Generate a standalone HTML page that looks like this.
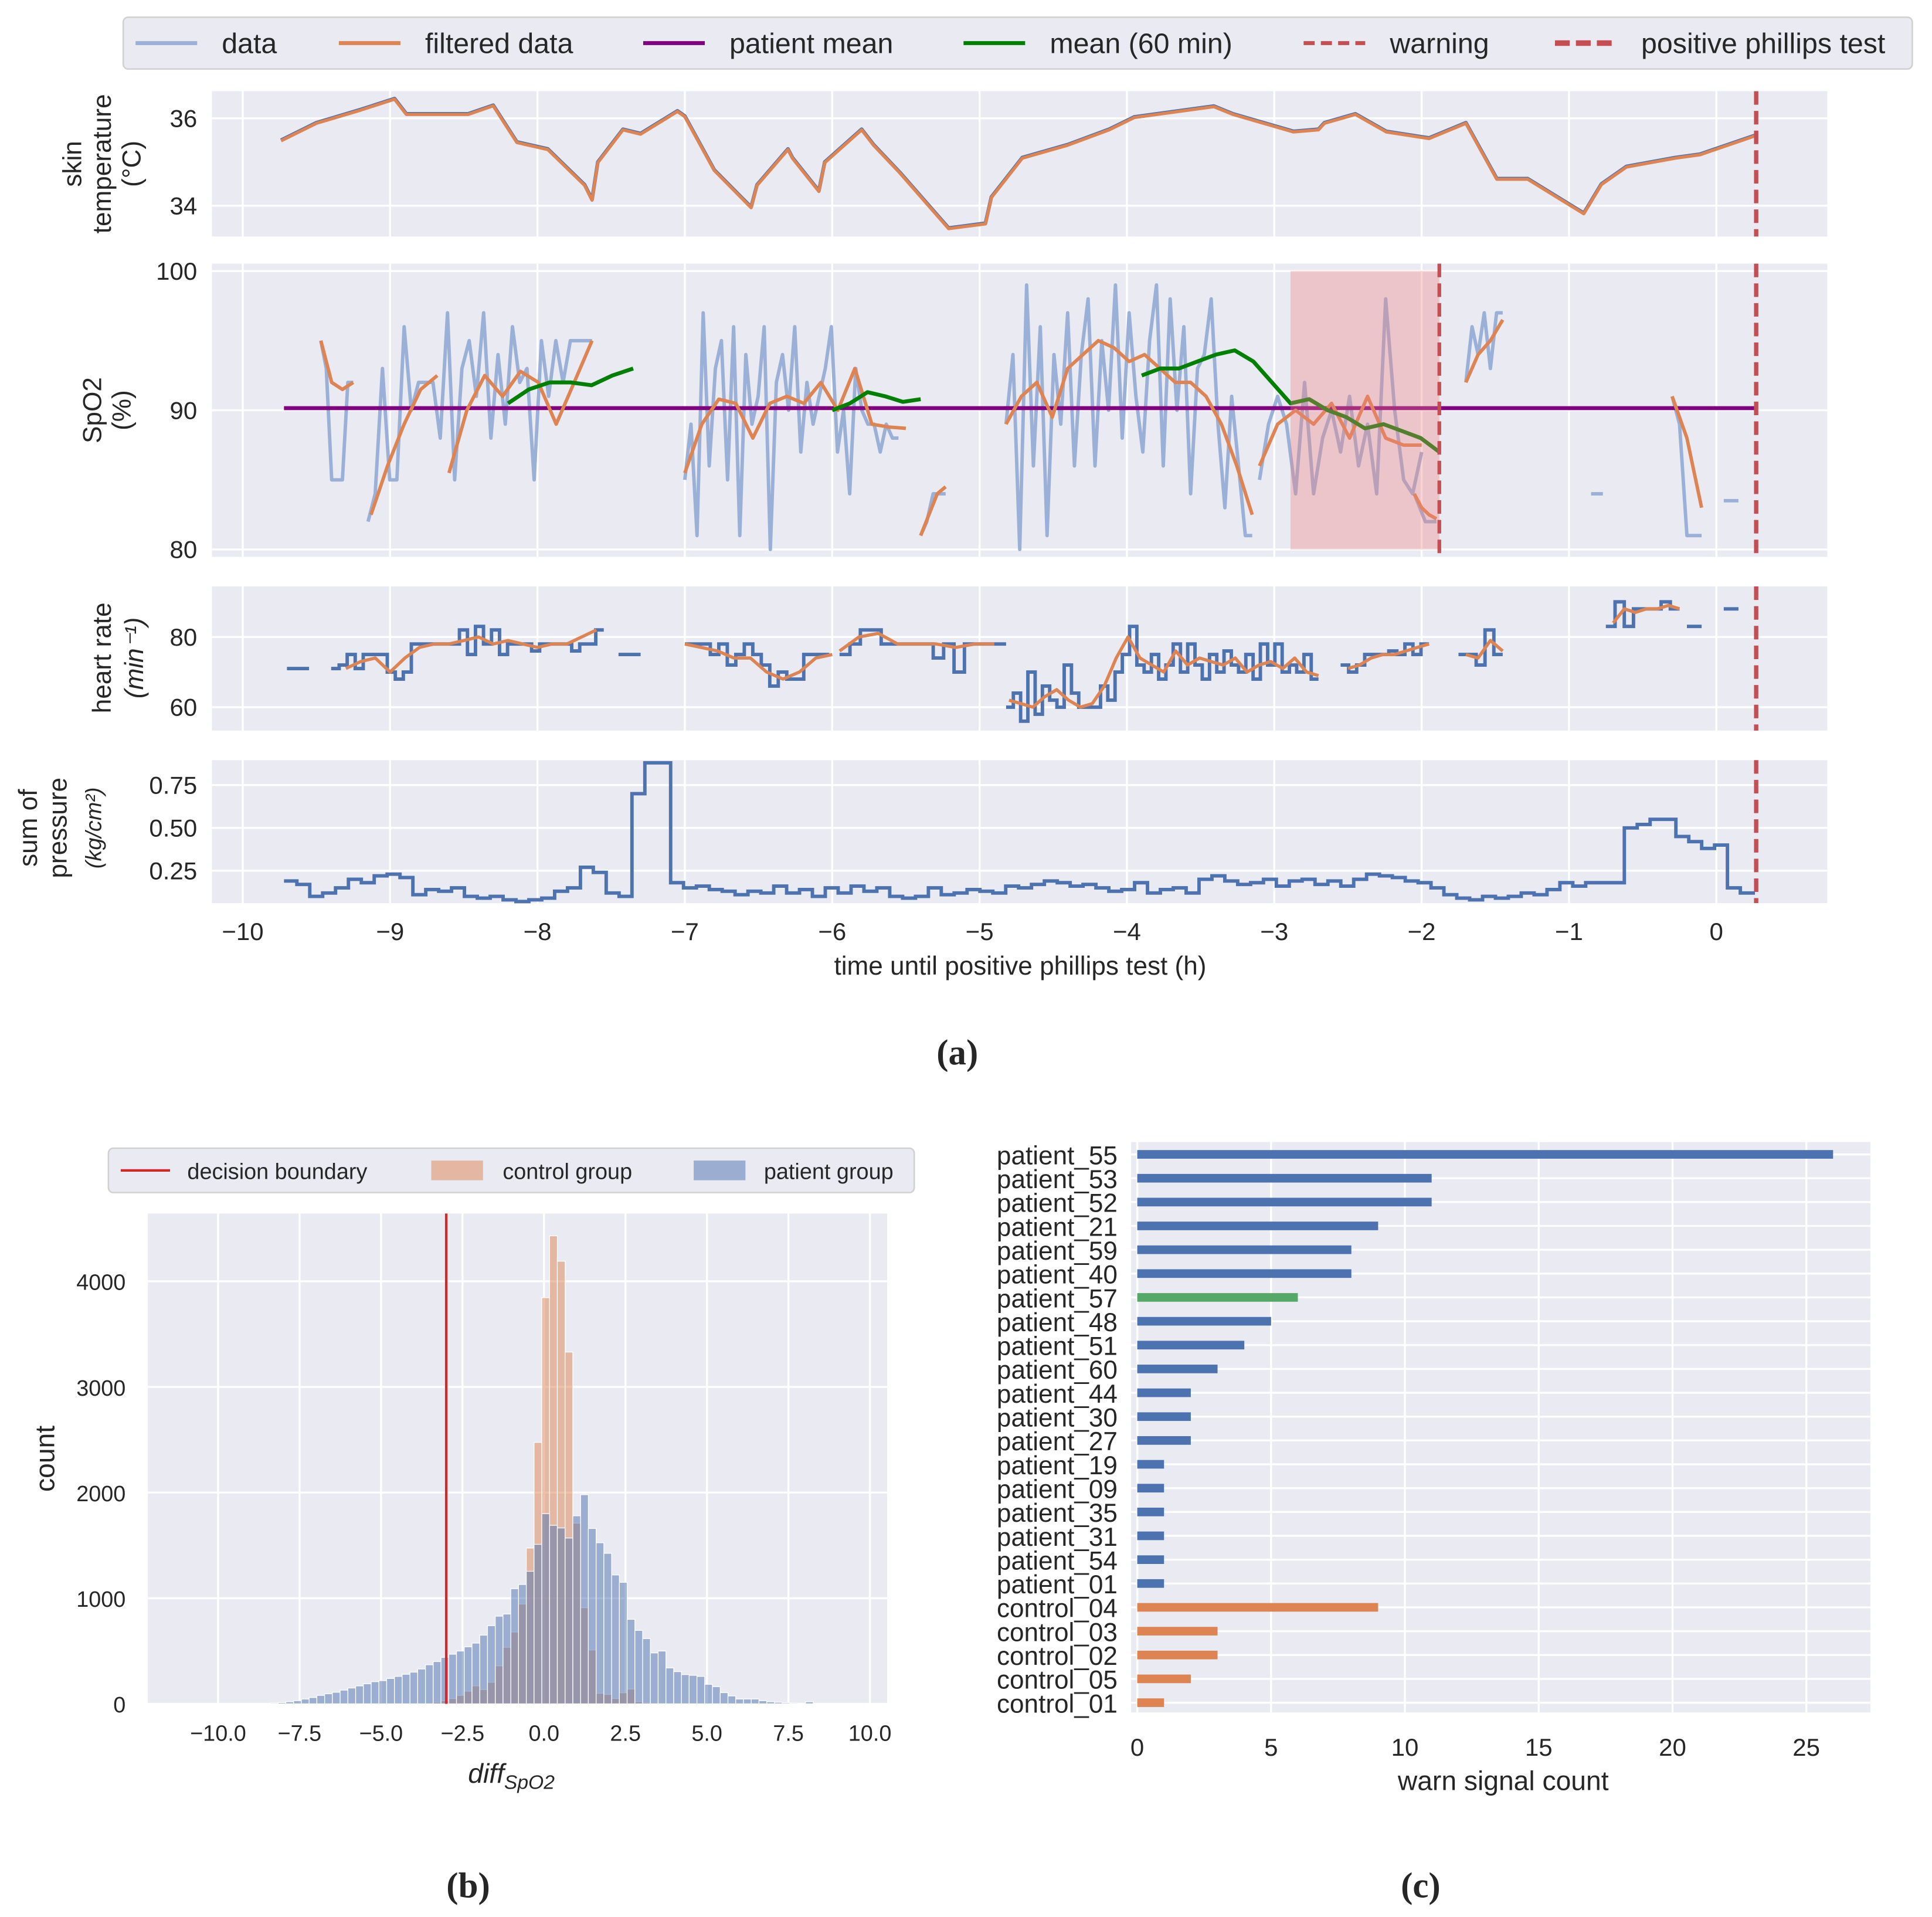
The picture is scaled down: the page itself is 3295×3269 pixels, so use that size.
<!DOCTYPE html>
<html><head><meta charset="utf-8">
<style>
html,body{margin:0;padding:0;background:#fff;}
svg{display:block;}
text{font-family:"Liberation Sans",Arial,sans-serif;fill:#262626;}
text.serif{font-family:"Liberation Serif",serif;font-weight:bold;}
</style></head>
<body>
<svg id="fig" xmlns="http://www.w3.org/2000/svg" width="3295" height="3269" viewBox="0 0 1568 1556" preserveAspectRatio="none"></svg>
<script>
// ---------- DATA ----------
const tempT=[-9.74,-9.5,-9.2,-8.97,-8.89,-8.6,-8.47,-8.3,-8.14,-7.93,-7.68,-7.63,-7.59,-7.42,-7.3,-7.05,-7.0,-6.8,-6.55,-6.51,-6.3,-6.27,-6.09,-6.05,-5.8,-5.72,-5.54,-5.21,-4.96,-4.92,-4.71,-4.4,-4.12,-3.95,-3.41,-3.28,-2.87,-2.7,-2.66,-2.45,-2.24,-1.95,-1.7,-1.49,-1.28,-0.9,-0.78,-0.61,-0.28,-0.11,0.27];
const tempV=[35.5,35.9,36.2,36.45,36.1,36.1,36.1,36.3,35.46,35.3,34.48,34.14,35.0,35.75,35.65,36.17,36.05,34.82,33.97,34.48,35.3,35.1,34.34,35.0,35.75,35.4,34.76,33.49,33.6,34.2,35.1,35.4,35.75,36.03,36.28,36.1,35.7,35.75,35.9,36.1,35.7,35.55,35.9,34.62,34.62,33.83,34.5,34.9,35.1,35.18,35.62];

const spoStart=[-9.47,-9.15,-7.0,-5.4,-4.82,-3.1,-2.05,-1.7,-0.85,-0.3,0.05];
const spoEnd=[-9.25,-7.63,-5.55,-5.23,-3.15,-2.0,-1.9,-1.45,-0.77,-0.1,0.15];
const spoVals=[
[95,93,85,85,85,92,92],
[82,84,93,85,85,96,90,92,92,92,88,97,85,93,95,91,97,88,94,89,96,92,93,85,95,91,95,92,95,95,95,95],
[85,89,81,97,86,93,95,85,96,81,94,89,91,96,80,92,94,90,96,87,92,89,91,93,96,87,90,84,93,90,89,89,87,89,88,88],
[81,82,84,84,84],
[89,94,80,99,86,96,81,94,89,97,86,94,98,86,95,90,99,88,97,91,87,95,99,86,98,90,96,84,93,94,98,89,83,91,86,81,81],
[85,89,91,89,84,92,84,88,90,87,91,86,89,84,98,90,85,84,87],
[84,83,82,82,82],[92,96,94,97,93,97,97],[84,84],[91,89,81,81,81],[83.5,83.5]];
const spoFStart=[-9.47,-9.13,-8.6,-7.0,-5.4,-4.82,-3.1,-2.05,-1.7,-0.3];
const spoFEnd=[-9.25,-8.68,-7.63,-5.5,-5.23,-3.15,-2.0,-1.9,-1.45,-0.1];
const spoFVals=[[95,92,91.5,92],[82.5,86,89,91.5,92.5],[85.5,90,92.5,91,92.8,92,89,92,95],
[85.5,89,90.8,90.5,88,90.5,91,90.5,92,90,93,89,88.8,88.7],[81,82.5,84,84.5],
[89,91,92,89.5,93,94,95,94.5,93.5,94,93,92,92,91,89,86,82.5],[86,89,90,89,90.5,88,91,88,87.5,87.5],
[84,83,82.5,82.2],[92,94,95,96.5],[91,88,83]];
const meanStart=[-8.2,-6.0,-3.9];
const meanEnd=[-7.35,-5.4,-1.88];
const meanVals=[[90.5,91.5,92,92,91.8,92.5,93],[90,90.5,91.3,91,90.6,90.8],[92.5,93,93,93.5,94,94.3,93.5,92,90.5,90.8,90,89.5,88.7,89,88.5,88,87]];
const patientMean=90.15;
const warnT=-1.88, testT=0.27, shadeT0=-2.89;

const hrStart=[-9.7,-9.4,-7.45,-7.0,-5.95,-4.82,-2.55,-1.75,-0.75,-0.2,0.05];
const hrEnd=[-9.55,-7.55,-7.3,-6.02,-4.82,-2.7,-1.95,-1.45,-0.25,-0.1,0.15];
const hrVals=[[71,71],
[71,72,75,71,75,75,75,70,68,70,78,78,78,78,78,78,82,75,83,78,82,75,78,78,78,76,78,78,78,78,76,78,78,82,82],
[75,75],[78,78,78,75,78,72,75,78,75,72,66,70,68,68,75,75,75,75],
[75,78,82,82,78,78,78,78,78,74,78,70,78,78,78,78,78],
[60,64,56,70,58,66,62,60,72,64,60,60,60,66,62,70,75,83,72,70,75,68,72,78,70,78,72,68,75,70,76,72,70,75,68,78,72,78,70,72,70,75,68,68],
[72,70,72,75,75,75,76,75,78,75,78,78],[75,75,72,82,75,75],[83,90,83,88,88,88,90,88,88],[83,83],[88,88]];
const hrFStart=[-9.3,-7.0,-5.95,-4.8,-2.5,-1.7,-0.7];
const hrFEnd=[-7.6,-6.0,-4.9,-2.7,-1.95,-1.45,-0.25];
const hrFVals=[[71,73,74,70,74,77,78,78,79,80,78,79,78,77,78,78,80,82],[78,77,76,74,74,70,68,70,74,75],
[76,80,81,78,78,78,77,78,78],[62,61,60,63,65,62,60,61,66,74,80,74,72,70,76,72,74,73,72,74,70,72,73,71,74,70,69],
[71,72,74,75,75,76,77,78],[75,74,79,76],[84,88,87,88,88,89,88]];

const presT0=-9.72, presT1=0.25;
const presVals=[0.19,0.17,0.1,0.12,0.15,0.2,0.18,0.22,0.23,0.21,0.11,0.14,0.13,0.15,0.1,0.09,0.1,0.08,0.07,0.08,0.09,0.13,0.15,0.27,0.24,0.12,0.1,0.7,0.88,0.88,0.18,0.15,0.16,0.14,0.13,0.11,0.13,0.12,0.16,0.12,0.14,0.1,0.15,0.12,0.16,0.13,0.15,0.1,0.09,0.1,0.15,0.11,0.12,0.14,0.13,0.12,0.16,0.15,0.17,0.19,0.18,0.16,0.17,0.15,0.13,0.14,0.18,0.12,0.14,0.15,0.12,0.2,0.22,0.19,0.17,0.18,0.2,0.16,0.19,0.2,0.17,0.19,0.16,0.2,0.23,0.22,0.21,0.19,0.18,0.15,0.11,0.09,0.08,0.1,0.09,0.1,0.12,0.11,0.14,0.18,0.16,0.18,0.18,0.18,0.5,0.52,0.55,0.55,0.45,0.42,0.38,0.4,0.15,0.12,0.13];

const xTicksA=[-10,-9,-8,-7,-6,-5,-4,-3,-2,-1,0];

// histogram
const binWidth=0.238, patFirstEdge=-8.635, ctlFirstEdge=-3.399;
const patCounts=[5,8,12,20,30,45,60,80,95,110,130,150,170,190,210,220,240,260,280,300,330,370,400,440,470,500,540,
575,650,740,830,850,1090,1130,1255,1510,1800,1690,1665,1570,1780,1980,1660,1525,1425,1220,1150,800,695,617,482,500,340,305,277,270,260,185,163,106,75,46,46,46,30,20,15,10,8,5,20,3];
const ctlCounts=[15,30,50,80,120,170,135,205,360,535,680,945,1475,2475,3845,4430,4190,3330,1710,910,510,100,90,50,105,140,20,10];
const decisionBoundary=-3;
const histXTicks=[-10,-7.5,-5,-2.5,0,2.5,5,7.5,10];
const histYTicks=[0,1000,2000,3000,4000];

// bar chart
const barNames=["patient_55","patient_53","patient_52","patient_21","patient_59","patient_40","patient_57","patient_48","patient_51","patient_60","patient_44","patient_30","patient_27","patient_19","patient_09","patient_35","patient_31","patient_54","patient_01","control_04","control_03","control_02","control_05","control_01"];
const barVals=[26,11,11,9,8,8,6,5,4,3,2,2,2,1,1,1,1,1,1,9,3,3,2,1];
const barGroup=["p","p","p","p","p","p","g","p","p","p","p","p","p","p","p","p","p","p","p","c","c","c","c","c"];
const barXTicks=[0,5,10,15,20,25];

// ---------- DRAW ----------
const svg=document.getElementById('fig');
const NS='http://www.w3.org/2000/svg';
function el(tag,attrs,parent){const e=document.createElementNS(NS,tag);for(const k in attrs)e.setAttribute(k,attrs[k]);(parent||svg).appendChild(e);return e;}
function txt(x,y,s,size,anchor,parent,extra){const t=el('text',Object.assign({x:x,y:y,'font-size':size,'text-anchor':anchor||'middle'},extra||{}),parent);t.textContent=s;return t;}

const X0=172,X1=1483;
const tx=t=>197+(t+10)*119.6;
function panel(name,y0,y1){
  const g=el('g',{});
  
  
  el('rect',{x:X0,y:y0,width:X1-X0,height:y1-y0,fill:'#eaeaf2'},g);
  xTicksA.forEach(v=>el('line',{x1:tx(v),x2:tx(v),y1:y0,y2:y1,stroke:'#fff','stroke-width':1.6},g));
  return g;
}
function hgrid(g,yy,lab){el('line',{x1:X0,x2:X1,y1:yy,y2:yy,stroke:'#fff','stroke-width':1.6},g);txt(160,yy+7,lab,20,'end',g);}
function stepPath(ts,vs,fx,fy){let d='';for(let i=0;i<vs.length;i++){const x=fx(ts[i]),y=fy(vs[i]);if(i==0)d+='M'+x+' '+y;else d+='H'+x+'V'+y;}return d;}
function linePath(ts,vs,fx,fy){return vs.map((v,i)=>(i?'L':'M')+fx(ts[i]).toFixed(1)+' '+fy(v).toFixed(1)).join('');}
function spread(a,b,n){const o=[];for(let i=0;i<n;i++)o.push(n==1?a:a+(b-a)*i/(n-1));return o;}
function vdash(g,t,y0,y1,name,w){const l=el('line',{x1:tx(t),x2:tx(t),y1:y0,y2:y1,stroke:'#c44e52','stroke-width':w||3.5,'stroke-dasharray':'11,5'},g);}

// legend top
const lg=el('g',{});


el('rect',{x:100,y:14,width:1452,height:42,rx:4,fill:'#eaeaf2',stroke:'#d0d0d0','stroke-width':1.2},lg);
const legItems=[["data",110,'#9bb0d6',0],["filtered data",275,'#dd8452',0],["patient mean",522,'#800080',0],["mean (60 min)",782,'#008000',0],["warning",1058,'#c44e52',1],["positive phillips test",1262,'#c44e52',2]];
legItems.forEach(it=>{const e=el('g',{},lg);
 const a={x1:it[1],x2:it[1]+50,y1:35,y2:35,stroke:it[2],'stroke-width':it[3]==2?4.5:3.2};if(it[3])a['stroke-dasharray']=it[3]==2?'12,5':'9,5';el('line',a,e);
 txt(it[1]+70,43,it[0],23,'start',e);});

// panel 1 temperature
const fyT=v=>96-(v-36)*35.5;
const p1=panel('skin-temperature-panel',74,192);
hgrid(p1,fyT(36),'36');hgrid(p1,fyT(34),'34');
el('path',{d:linePath(tempT,tempV,tx,fyT),fill:'none',stroke:'#4c72b0','stroke-width':3,'stroke-linejoin':'round'},p1);
el('path',{d:linePath(tempT,tempV,tx,v=>fyT(v)+0.5),fill:'none',stroke:'#dd8452','stroke-width':2.6,'stroke-linejoin':'round'},p1);
vdash(p1,testT,74,192,'phillips-test-line');
txt(0,0,'skin',21,'middle',p1,{transform:'translate(66,133) rotate(-90)'});
txt(0,0,'temperature',21,'middle',p1,{transform:'translate(90,133) rotate(-90)'});
txt(0,0,'(°C)',21,'middle',p1,{transform:'translate(114,133) rotate(-90)'});

// panel 2 spo2
const fyS=v=>333-(v-90)*11.3;
const p2=panel('spo2-panel',214,452);
[100,90,80].forEach(v=>hgrid(p2,fyS(v),String(v)));
spoVals.forEach((vs,i)=>{const ts=spread(spoStart[i],spoEnd[i],vs.length);const p=el('path',{d:linePath(ts,vs,tx,fyS),fill:'none',stroke:'#9bb0d6','stroke-width':2.8,'stroke-linejoin':'round'},p2);});
el('line',{x1:tx(-9.72),x2:tx(testT),y1:fyS(patientMean),y2:fyS(patientMean),stroke:'#800080','stroke-width':3.2},p2);
spoFVals.forEach((vs,i)=>{const ts=spread(spoFStart[i],spoFEnd[i],vs.length);el('path',{d:linePath(ts,vs,tx,fyS),fill:'none',stroke:'#dd8452','stroke-width':2.8,'stroke-linejoin':'round'},p2);});
meanVals.forEach((vs,i)=>{const ts=spread(meanStart[i],meanEnd[i],vs.length);el('path',{d:linePath(ts,vs,tx,fyS),fill:'none',stroke:'#008000','stroke-width':3.2,'stroke-linejoin':'round'},p2);});
const sh=el('rect',{x:tx(shadeT0),y:fyS(100),width:tx(warnT)-tx(shadeT0),height:fyS(80)-fyS(100),fill:'#f08080','fill-opacity':0.35},p2);

vdash(p2,warnT,214,452,'warning-line',3);
vdash(p2,testT,214,452,'phillips-test-line');
txt(0,0,'SpO2',21,'middle',p2,{transform:'translate(82,333) rotate(-90)'});
txt(0,0,'(%)',21,'middle',p2,{transform:'translate(106,333) rotate(-90)'});

// panel 3 heart rate
const fyH=v=>517-(v-80)*2.85;
const p3=panel('heart-rate-panel',476,593);
hgrid(p3,fyH(80),'80');hgrid(p3,fyH(60),'60');
hrVals.forEach((vs,i)=>{const ts=spread(hrStart[i],hrEnd[i],vs.length);el('path',{d:stepPath(ts,vs,tx,fyH),fill:'none',stroke:'#4c72b0','stroke-width':2.8},p3);});
hrFVals.forEach((vs,i)=>{const ts=spread(hrFStart[i],hrFEnd[i],vs.length);el('path',{d:linePath(ts,vs,tx,fyH),fill:'none',stroke:'#dd8452','stroke-width':2.6,'stroke-linejoin':'round'},p3);});
vdash(p3,testT,476,593,'phillips-test-line');
txt(0,0,'heart rate',21,'middle',p3,{transform:'translate(90,534) rotate(-90)'});
txt(0,0,'(min⁻¹)',21,'middle',p3,{transform:'translate(116,534) rotate(-90)','font-style':'italic'});

// panel 4 pressure
const fyP=v=>672-(v-0.5)*139;
const p4=panel('pressure-panel',617,733);
[[0.75,'0.75'],[0.5,'0.50'],[0.25,'0.25']].forEach(a=>hgrid(p4,fyP(a[0]),a[1]));
el('path',{d:stepPath(spread(presT0,presT1,presVals.length),presVals,tx,fyP),fill:'none',stroke:'#4c72b0','stroke-width':2.8},p4);
vdash(p4,testT,617,733,'phillips-test-line');
txt(0,0,'sum of',21,'middle',p4,{transform:'translate(30,672) rotate(-90)'});
txt(0,0,'pressure',21,'middle',p4,{transform:'translate(54,672) rotate(-90)'});
txt(0,0,'(kg/cm²)',18,'middle',p4,{transform:'translate(82,672) rotate(-90)','font-style':'italic'});
xTicksA.forEach(v=>txt(tx(v),763,String(v).replace('-','−'),20,'middle'));
txt(828,791,'time until positive phillips test (h)',21,'middle');
txt(777,864,'(a)',29,'middle',null,{'class':'serif'});

// ---------- histogram (b) ----------
const hx=v=>177+(v+10)*26.45, hy=c=>1383-c*0.08575;
const hg=el('g',{});


el('rect',{x:120,y:985,width:600,height:398,fill:'#eaeaf2'},hg);
histXTicks.forEach(v=>{el('line',{x1:hx(v),x2:hx(v),y1:985,y2:1383,stroke:'#fff','stroke-width':1.6},hg);txt(hx(v),1413,String(v.toFixed(1)).replace('-','−'),18,'middle',hg);});
histYTicks.forEach(v=>{el('line',{x1:120,x2:720,y1:hy(v),y2:hy(v),stroke:'#fff','stroke-width':1.6},hg);txt(102,hy(v)+7,String(v),18,'end',hg);});
ctlCounts.forEach((c,i)=>{const x=hx(ctlFirstEdge+i*binWidth);const r=el('rect',{x:x,y:hy(c),width:binWidth*26.45,height:c*0.08575,fill:'#dd8452','fill-opacity':0.5,stroke:'#fff','stroke-width':0.6},hg);});
patCounts.forEach((c,i)=>{const x=hx(patFirstEdge+i*binWidth);const r=el('rect',{x:x,y:hy(c),width:binWidth*26.45,height:c*0.08575,fill:'#4c72b0','fill-opacity':0.5,stroke:'#fff','stroke-width':0.6},hg);});
el('line',{x1:hx(decisionBoundary),x2:hx(decisionBoundary),y1:985,y2:1383,stroke:'#d62728','stroke-width':2},hg);
txt(0,0,'count',22,'middle',hg,{transform:'translate(44,1184) rotate(-90)'});
const xl=txt(415,1447,'diff',22,'middle',hg,{'font-style':'italic'});
const sub=el('tspan',{'font-size':16,dy:5},xl);sub.textContent='SpO2';
const hl=el('g',{});
el('rect',{x:88,y:932,width:654,height:36,rx:4,fill:'#eaeaf2',stroke:'#d0d0d0','stroke-width':1.2},hl);
el('line',{x1:98,x2:138,y1:950,y2:950,stroke:'#d62728','stroke-width':2},hl);txt(152,957,'decision boundary',18,'start',hl);
el('rect',{x:350,y:942,width:42,height:16,fill:'#dd8452','fill-opacity':0.5},hl);txt(408,957,'control group',18,'start',hl);
el('rect',{x:563,y:942,width:42,height:16,fill:'#4c72b0','fill-opacity':0.5},hl);txt(620,957,'patient group',18,'start',hl);
txt(380,1540,'(b)',29,'middle',null,{'class':'serif'});

// ---------- bar chart (c) ----------
const bx=v=>923+v*21.72, by=i=>937+i*19.35;
const bg=el('g',{});


el('rect',{x:918,y:927,width:600,height:463,fill:'#eaeaf2'},bg);
barXTicks.forEach(v=>{el('line',{x1:bx(v),x2:bx(v),y1:927,y2:1390,stroke:'#fff','stroke-width':1.6},bg);txt(bx(v),1425,String(v),20,'middle',bg);});
const colors={p:'#4c72b0',g:'#55a868',c:'#dd8452'};
barNames.forEach((n,i)=>{el('line',{x1:918,x2:1518,y1:by(i),y2:by(i),stroke:'#fff','stroke-width':1.6},bg);
 const r=el('rect',{x:bx(0),y:by(i)-3.5,width:bx(barVals[i])-bx(0),height:7,fill:colors[barGroup[i]]},bg);
 
 txt(907,by(i)+8,n,21,'end',bg);});
txt(1220,1453,'warn signal count',22,'middle',bg);
txt(1153,1540,'(c)',29,'middle',null,{'class':'serif'});
</script>
</body></html>
